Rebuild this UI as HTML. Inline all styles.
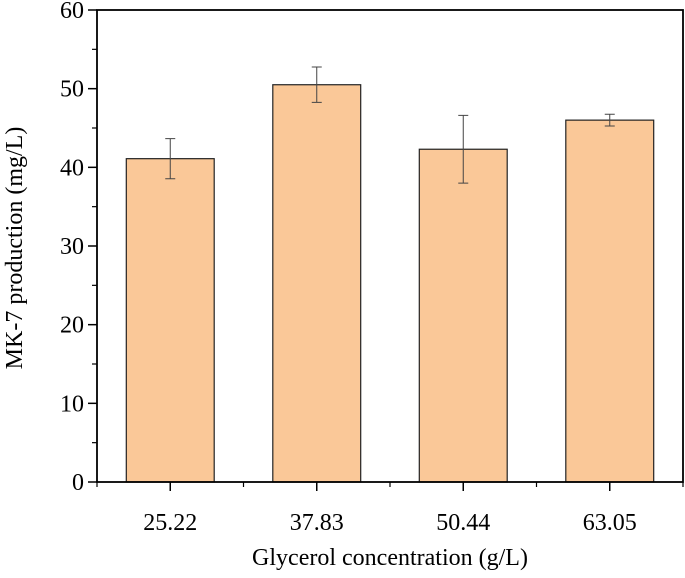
<!DOCTYPE html>
<html><head><meta charset="utf-8"><style>
body{margin:0;background:#fff}
svg text{font-family:"Liberation Serif",serif;fill:#000}
</style></head><body>
<svg width="685" height="573" xmlns="http://www.w3.org/2000/svg">
<g id="g"></g>
</svg>
<script>
const categories=["25.22","37.83","50.44","63.05"];
const values=[41.1,50.5,42.3,46.0];
const errors=[2.55,2.25,4.3,0.75];
const yTicks=[0,10,20,30,40,50,60];
const L=97,R=683,T=10,B=482;
const xs=v=>L+(v-0.5)/4*(R-L);
const ys=v=>B-v/60*(B-T);
const NS="http://www.w3.org/2000/svg";
const g=document.getElementById('g');
function mk(t,a,txt){const e=document.createElementNS(NS,t);for(const k in a)e.setAttribute(k,a[k]);if(txt!==undefined)e.textContent=txt;g.appendChild(e);return e;}
values.forEach((v,i)=>{
 const cx=xs(i+1),w=(R-L)/4*0.6;
 const b=mk('rect',{x:cx-w/2,y:ys(v),width:w,height:B-ys(v),fill:'#fac898',stroke:'#222','stroke-width':1.2});
 
 
 const e=errors[i];
 const eb=mk('path',{d:`M${cx},${ys(v+e)}V${ys(v-e)}M${cx-5},${ys(v+e)}H${cx+5}M${cx-5},${ys(v-e)}H${cx+5}`,stroke:'#444','stroke-width':1,fill:'none'});
 
 
 const t=mk('text',{x:cx,y:530,'text-anchor':'middle','font-size':24},categories[i]);
 
 
 mk('line',{x1:cx,x2:cx,y1:B,y2:B+9,stroke:'#000','stroke-width':1.5});
 mk('line',{x1:cx+(R-L)/8,x2:cx+(R-L)/8,y1:B,y2:B+5,stroke:'#000','stroke-width':1.2});
 if(i==0)mk('line',{x1:cx-(R-L)/8,x2:cx-(R-L)/8,y1:B,y2:B+5,stroke:'#000','stroke-width':1.2});
});
yTicks.forEach(v=>{
 const y=ys(v);
 mk('line',{x1:L-9,x2:L,y1:y,y2:y,stroke:'#000','stroke-width':1.5});
 if(v<60)mk('line',{x1:L-5,x2:L,y1:ys(v+5),y2:ys(v+5),stroke:'#000','stroke-width':1.2});
 const t=mk('text',{x:L-13,y:y+8,'text-anchor':'end','font-size':24},String(v));
 
 
});
const f=mk('rect',{x:L,y:T,width:R-L,height:B-T,fill:'none',stroke:'#000','stroke-width':1.8});


const xt=mk('text',{x:390,y:565,'text-anchor':'middle','font-size':24},'Glycerol concentration (g/L)');


const yt=mk('text',{x:0,y:0,'text-anchor':'middle','font-size':24,transform:`translate(22,${(T+B)/2+2}) rotate(-90)`},'MK-7 production (mg/L)');


</script>
</body></html>
